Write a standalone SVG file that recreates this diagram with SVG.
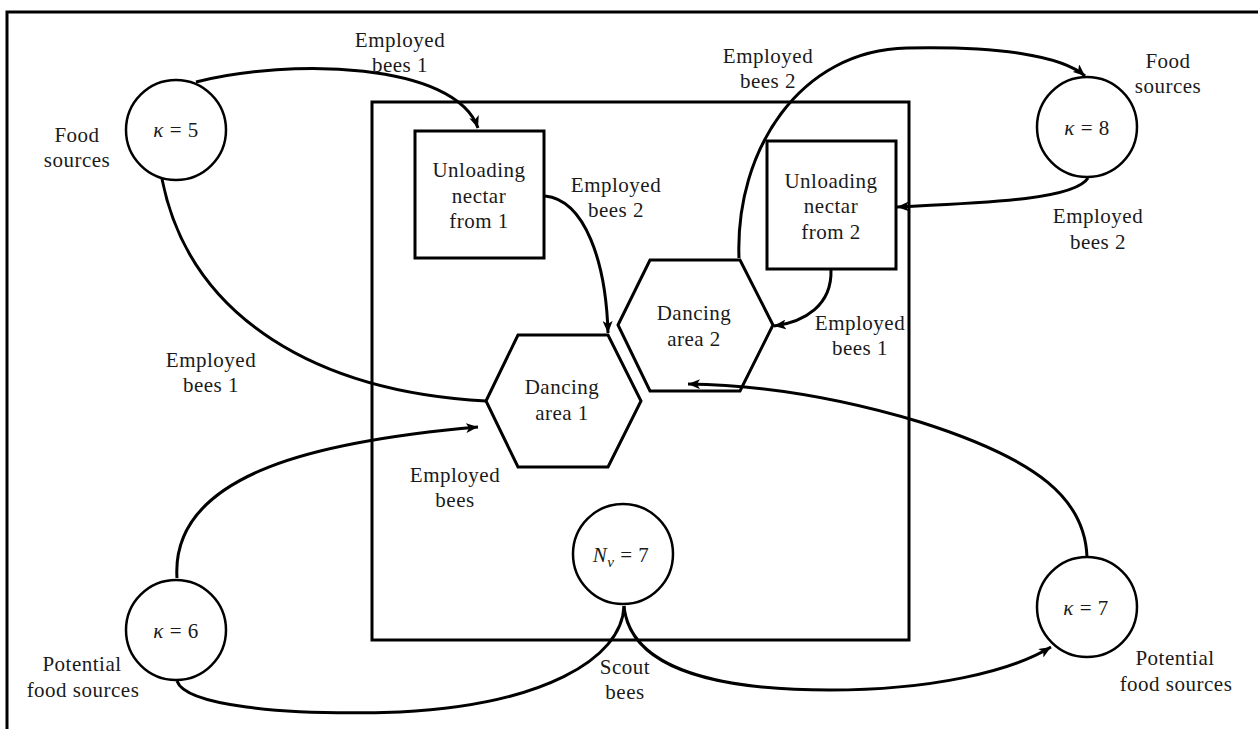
<svg xmlns="http://www.w3.org/2000/svg" width="1258" height="729" viewBox="0 0 1258 729">
<style>
.frame{fill:none;stroke:#000;stroke-width:3}
.box{fill:none;stroke:#000;stroke-width:3}
.circ{fill:#fff;stroke:#000;stroke-width:2.5}
.con{fill:none;stroke:#000;stroke-width:3}
.arr{marker-end:url(#ah)}
text{font-family:"Liberation Serif","Times New Roman",serif;font-size:21px;fill:#1a1a1a;text-anchor:middle;letter-spacing:0.5px}
.it{font-style:italic}
</style>
<defs>
<marker id="ah" markerUnits="userSpaceOnUse" markerWidth="13" markerHeight="10" refX="12" refY="5" orient="auto">
<path d="M0,0 L12,5 L0,10 L3,5 z" fill="#000"/>
</marker>
</defs>
<rect x="0" y="0" width="1258" height="729" fill="#fff"/>
<rect class="frame" x="7" y="12" width="1300" height="800"/>
<g id="hive"><rect class="box" x="372" y="102" width="537" height="538"/></g>

<g id="connectors">
<path class="con arr" d="M196,82 C290,58 455,62 478,128"/>
<path class="con" d="M162,179 C190,320 320,392 486,401"/>
<path class="con arr" d="M545,196 C585,200 606,262 608,333"/>
<path class="con arr" d="M739,258 C735,150 800,50 907,48 C1000,46 1062,56 1085,76"/>
<path class="con arr" d="M1088,178 C1075,200 980,203 897,207"/>
<path class="con arr" d="M831,270 C832,305 805,322 774,326"/>
<path class="con arr" d="M1087,557 C1085,500 1040,460 920,422 C840,398 760,385 688,384"/>
<path class="con arr" d="M177,578 C170,470 330,440 478,427"/>
<path class="con" d="M624,606 C622,660 540,705 400,712 C280,716 185,705 177,681"/>
<path class="con arr" d="M624,606 C630,670 720,690 830,690 C930,690 1010,672 1051,647"/>
</g>

<g id="food5">
<circle class="circ" cx="176" cy="130" r="50"/>
<text x="176" y="137"><tspan class="it">κ</tspan> = 5</text>
<text x="77" y="142">Food</text><text x="77" y="167">sources</text>
</g>
<g id="food8">
<circle class="circ" cx="1087" cy="127" r="50"/>
<text x="1087" y="135"><tspan class="it">κ</tspan> = 8</text>
<text x="1168" y="68">Food</text><text x="1168" y="93">sources</text>
</g>
<g id="pot6">
<circle class="circ" cx="176" cy="630" r="50"/>
<text x="176" y="638"><tspan class="it">κ</tspan> = 6</text>
<text x="82" y="671">Potential</text><text x="83" y="697">food sources</text>
</g>
<g id="pot7">
<circle class="circ" cx="1087" cy="607" r="50"/>
<text x="1086" y="615"><tspan class="it">κ</tspan> = 7</text>
<text x="1175" y="665">Potential</text><text x="1176" y="691">food sources</text>
</g>
<g id="scouts">
<circle class="circ" cx="623" cy="554" r="50"/>
<text x="621" y="562"><tspan class="it">N</tspan><tspan class="it" font-size="15" dy="5">v</tspan><tspan dy="-5"> = 7</tspan></text>
<text x="625" y="674">Scout</text><text x="625" y="699">bees</text>
</g>
<g id="unload1">
<rect class="box" x="415" y="131" width="129" height="127"/>
<text x="479" y="177">Unloading</text><text x="479" y="203">nectar</text><text x="479" y="228">from 1</text>
</g>
<g id="unload2">
<rect class="box" x="767" y="141" width="129" height="128"/>
<text x="831" y="188">Unloading</text><text x="831" y="213">nectar</text><text x="831" y="239">from 2</text>
</g>
<g id="dance1">
<polygon class="box" points="486,401 518,335 608,335 641,401 608,467 518,467"/>
<text x="562" y="394">Dancing</text><text x="562" y="420">area 1</text>
</g>
<g id="dance2">
<polygon class="box" points="618,325 650,260 740,260 773,325 740,391 650,391"/>
<text x="694" y="320">Dancing</text><text x="694" y="346">area 2</text>
</g>
<g id="labels">
<text x="400" y="47">Employed</text><text x="400" y="72">bees 1</text>
<text x="768" y="63">Employed</text><text x="768" y="88">bees 2</text>
<text x="616" y="192">Employed</text><text x="616" y="217">bees 2</text>
<text x="1098" y="223">Employed</text><text x="1098" y="249">bees 2</text>
<text x="860" y="330">Employed</text><text x="860" y="355">bees 1</text>
<text x="211" y="367">Employed</text><text x="211" y="392">bees 1</text>
<text x="455" y="482">Employed</text><text x="455" y="507">bees</text>
</g>
</svg>
